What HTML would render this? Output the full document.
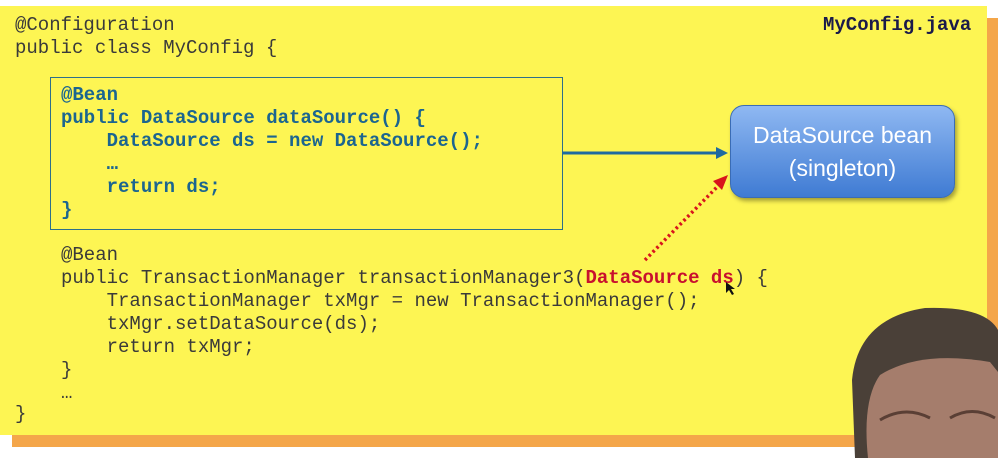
<!DOCTYPE html>
<html><head><meta charset="utf-8"><style>
body{margin:0;width:998px;height:458px;background:#fff;position:relative;overflow:hidden;font-family:"Liberation Mono",monospace}
.sh{position:absolute;left:12px;top:18px;width:986px;height:429px;background:#f4a64a}
.bg{position:absolute;left:0;top:6px;width:987px;height:429px;background:#fdf553}
.t{position:absolute;font-size:19px;white-space:pre;color:#3a3a3a;line-height:23px}
.b{font-weight:bold;color:#1b6590}
.r{font-weight:bold;color:#c8102e}
.box{position:absolute;left:50px;top:77px;width:511px;height:151px;border:1.5px solid #2d6f8a}
.bean{position:absolute;left:730px;top:105px;width:225px;height:93px;border-radius:14px;background:linear-gradient(#8fb8f2,#3f7bd3);box-shadow:2px 3px 4px rgba(0,0,0,.35);border:1px solid #3a6cb5;color:#fff;font-family:"Liberation Sans",sans-serif;font-size:23px;text-align:center;line-height:33px;box-sizing:border-box;padding-top:13px}
</style></head><body>
<div class="sh"></div><div class="bg"></div>
<div class="t" style="left:15px;top:14px">@Configuration
public class MyConfig {</div>
<div class="t b" style="left:823px;top:14px;color:#1a1a4a">MyConfig.java</div>
<div class="box"></div>
<div class="t b" style="left:61px;top:84px">@Bean
public DataSource dataSource() {
    DataSource ds = new DataSource();
    …
    return ds;
}</div>
<div class="t" style="left:61px;top:244px">@Bean
public TransactionManager transactionManager3(<span class="r">DataSource ds</span>) {
    TransactionManager txMgr = new TransactionManager();
    txMgr.setDataSource(ds);
    return txMgr;
}
…</div>
<div class="t" style="left:15px;top:403px">}</div>
<div class="bean">DataSource bean<br>(singleton)</div>
<svg style="position:absolute;left:0;top:0" width="998" height="458">
<line x1="562" y1="153" x2="718" y2="153" stroke="#1f6aa0" stroke-width="3"/>
<polygon points="728,153 716,147 716,159" fill="#1f6aa0"/>
<line x1="645" y1="260" x2="720" y2="184" stroke="#d8141c" stroke-width="3.5" stroke-dasharray="2.5,3"/>
<polygon points="728,175 713,181 722,190" fill="#d8141c"/>
<polygon points="726,282 726,293 729,290 732,295 734,294 731,289 735,289" fill="#111"/>
<path d="M855,458 L852,380 Q858,318 925,308 Q985,306 998,330 L998,458 Z" fill="#4a4038"/>
<path d="M868,458 Q862,400 880,375 Q920,350 990,362 L998,372 L998,458 Z" fill="#a57d6c"/>
<path d="M880,420 Q905,405 930,418 M950,418 Q972,405 995,418" stroke="#5a3f35" stroke-width="3" fill="none"/>
</svg>
</body></html>
